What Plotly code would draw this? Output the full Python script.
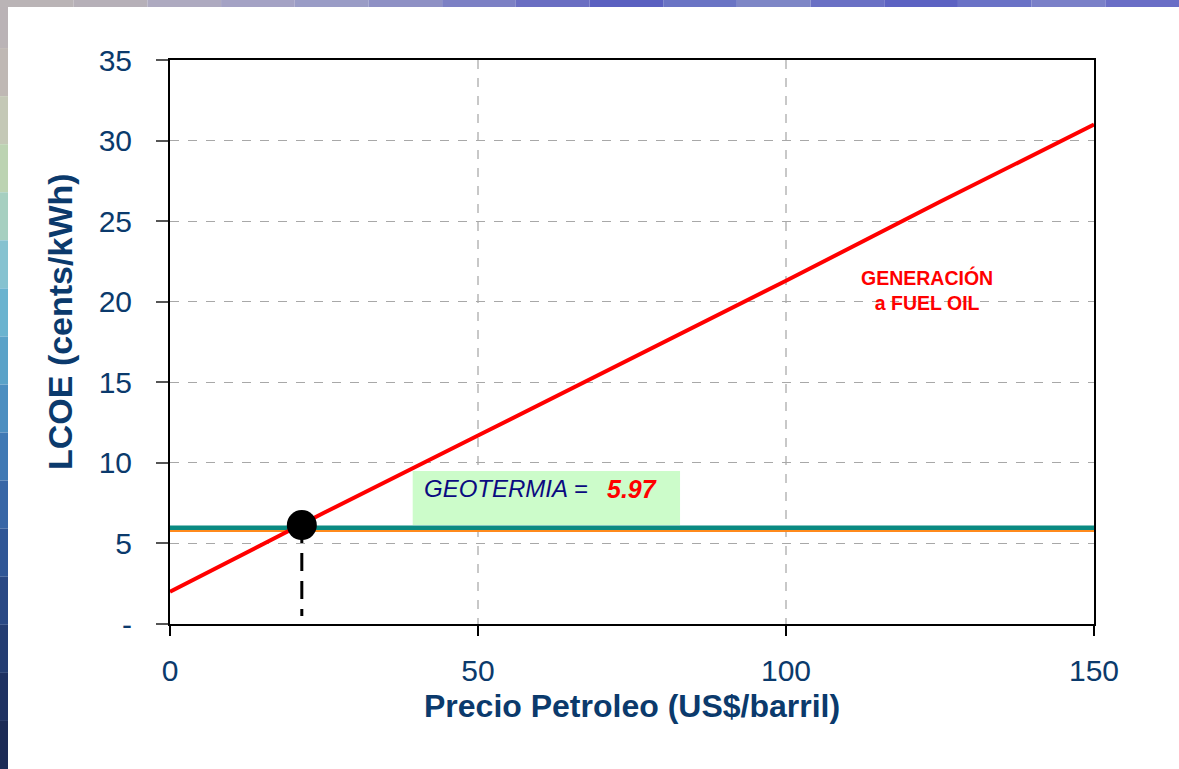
import plotly.graph_objects as go

# ---- data ----
oil_price = [0, 25, 50, 75, 100, 125, 150]
lcoe_fuel_oil = [2.0, 6.9, 11.7, 16.5, 21.3, 26.2, 31.0]
geo_x = [0, 150]
geo_lcoe = [5.97, 5.97]
geo_lower = [5.78, 5.78]
cross_x = [21.4]
cross_y = [6.14]
drop_x = [21.4, 21.4]
drop_y = [6.14, 0.5]
x_ticks = [0, 50, 100, 150]
y_ticks = [0, 5, 10, 15, 20, 25, 30, 35]
y_ticktext = ["-", "5", "10", "15", "20", "25", "30", "35"]
box_x = [39.4, 82.8]
box_y = [6.15, 9.5]

W, H = 1179, 769
L, R, T, B = 170, 85, 60, 145
PW, PH = W - L - R, H - T - B

def px(x):
    return (x - L) / PW

def py(y):
    return (H - B - y) / PH

NAVY = "#0b3a6c"
FONT = "Liberation Sans, Arial, sans-serif"

fig = go.Figure()

fig.add_trace(go.Scatter(x=geo_x, y=geo_lower, mode="lines",
                         line=dict(color="#ff8a1c", width=2.5), hoverinfo="skip"))
fig.add_trace(go.Scatter(x=geo_x, y=geo_lcoe, mode="lines",
                         line=dict(color="#0a8a82", width=4.5), name="Geotermia"))
fig.add_trace(go.Scatter(x=oil_price, y=lcoe_fuel_oil, mode="lines",
                         line=dict(color="#ff0000", width=4), name="Fuel oil"))
fig.add_trace(go.Scatter(x=drop_x, y=drop_y, mode="lines",
                         line=dict(color="#000000", width=3, dash="18px,10px"),
                         hoverinfo="skip"))
fig.add_trace(go.Scatter(x=cross_x, y=cross_y, mode="markers",
                         marker=dict(color="#000000", size=30), hoverinfo="skip"))

shapes = []
# white page
shapes.append(dict(type="rect", xref="paper", yref="paper", layer="below",
                   x0=px(8), x1=px(W), y0=py(7), y1=py(H),
                   fillcolor="white", line=dict(width=0)))
# left decorative strip
left_cols = ["#bab3b6", "#bfb8b4", "#c4c8b6", "#bcd3b2", "#a6cfc0", "#86c2d0",
             "#6ab3cf", "#5aa2c8", "#4c8ec0", "#4079b4", "#3866a6", "#2f5696",
             "#294884", "#243d72", "#1f3262", "#1c2b56"]
n = len(left_cols)
for i, c in enumerate(left_cols):
    shapes.append(dict(type="rect", xref="paper", yref="paper", layer="below",
                       x0=px(0), x1=px(8), y0=py(i * H / n), y1=py((i + 1) * H / n),
                       fillcolor=c, line=dict(width=0)))
# top decorative strip
top_cols = ["#bab4b6", "#b6b0b8", "#aeaac0", "#a4a2c4", "#9a9cc6", "#8e90c4",
            "#7c80c4", "#6a6ec2", "#5a60c0", "#6a74c4", "#7e86c6", "#6a70c4",
            "#5c62c2", "#6a72c6", "#7a80c8", "#6a6ec6"]
m = len(top_cols)
for i, c in enumerate(top_cols):
    shapes.append(dict(type="rect", xref="paper", yref="paper", layer="below",
                       x0=px(i * W / m), x1=px((i + 1) * W / m), y0=py(0), y1=py(7),
                       fillcolor=c, line=dict(width=0)))
# green label box
shapes.append(dict(type="rect", xref="x", yref="y", layer="between",
                   x0=box_x[0], x1=box_x[1], y0=box_y[0], y1=box_y[1],
                   fillcolor="#ccfcca", line=dict(width=0)))

annotations = [
    dict(text="<b>Precio Petroleo (US$/barril)</b>", xref="paper", yref="paper",
         x=px(632), y=py(706), xanchor="center", yanchor="middle", showarrow=False,
         font=dict(family=FONT, size=32, color=NAVY)),
    dict(text="<b>LCOE (cents/kWh)</b>", xref="paper", yref="paper",
         x=px(60), y=py(322), xanchor="center", yanchor="middle", showarrow=False,
         textangle=-90, font=dict(family=FONT, size=34, color=NAVY)),
    dict(text="<i>GEOTERMIA =</i>", xref="x", yref="y", x=40.9, y=8.4,
         xanchor="left", yanchor="middle", showarrow=False,
         font=dict(family=FONT, size=24, color="#0a0a80")),
    dict(text="<b><i>5.97</i></b>", xref="x", yref="y", x=70.6, y=8.4,
         xanchor="left", yanchor="middle", showarrow=False,
         font=dict(family=FONT, size=25, color="#ff0000")),
    dict(text="<b>GENERACIÓN<br>a FUEL OIL</b>", xref="x", yref="y", x=122.9, y=20.75,
         xanchor="center", yanchor="middle", showarrow=False,
         font=dict(family=FONT, size=19.5, color="#ff0000")),
]

fig.update_layout(
    width=W, height=H,
    margin=dict(l=L, r=R, t=T, b=B, pad=0),
    paper_bgcolor="white", plot_bgcolor="rgba(0,0,0,0)",
    showlegend=False,
    shapes=shapes, annotations=annotations,
    font=dict(family=FONT, color=NAVY),
)
fig.update_xaxes(range=[0, 150], tickvals=x_ticks, ticks="outside", ticklen=10,
                 tickcolor="#000000", tickwidth=1.5,
                 showline=True, linecolor="#000000", linewidth=2, mirror=True,
                 showgrid=True, gridcolor="#c8c8c8", gridwidth=1.5, griddash="dash",
                 zeroline=False, ticklabelstandoff=9,
                 tickfont=dict(family=FONT, size=30, color=NAVY))
fig.update_yaxes(range=[0, 35], tickvals=y_ticks, ticktext=y_ticktext,
                 ticks="outside", ticklen=12, tickcolor="#555555", tickwidth=1.5,
                 showline=True, linecolor="#000000", linewidth=2, mirror=True,
                 showgrid=True, gridcolor="#a8a8a8", gridwidth=1, griddash="dash",
                 zeroline=False, ticklabelstandoff=18,
                 tickfont=dict(family=FONT, size=30, color=NAVY))

fig.write_html("out.html", config={"displayModeBar": False},
               post_script="document.body.style.margin='0px';")
